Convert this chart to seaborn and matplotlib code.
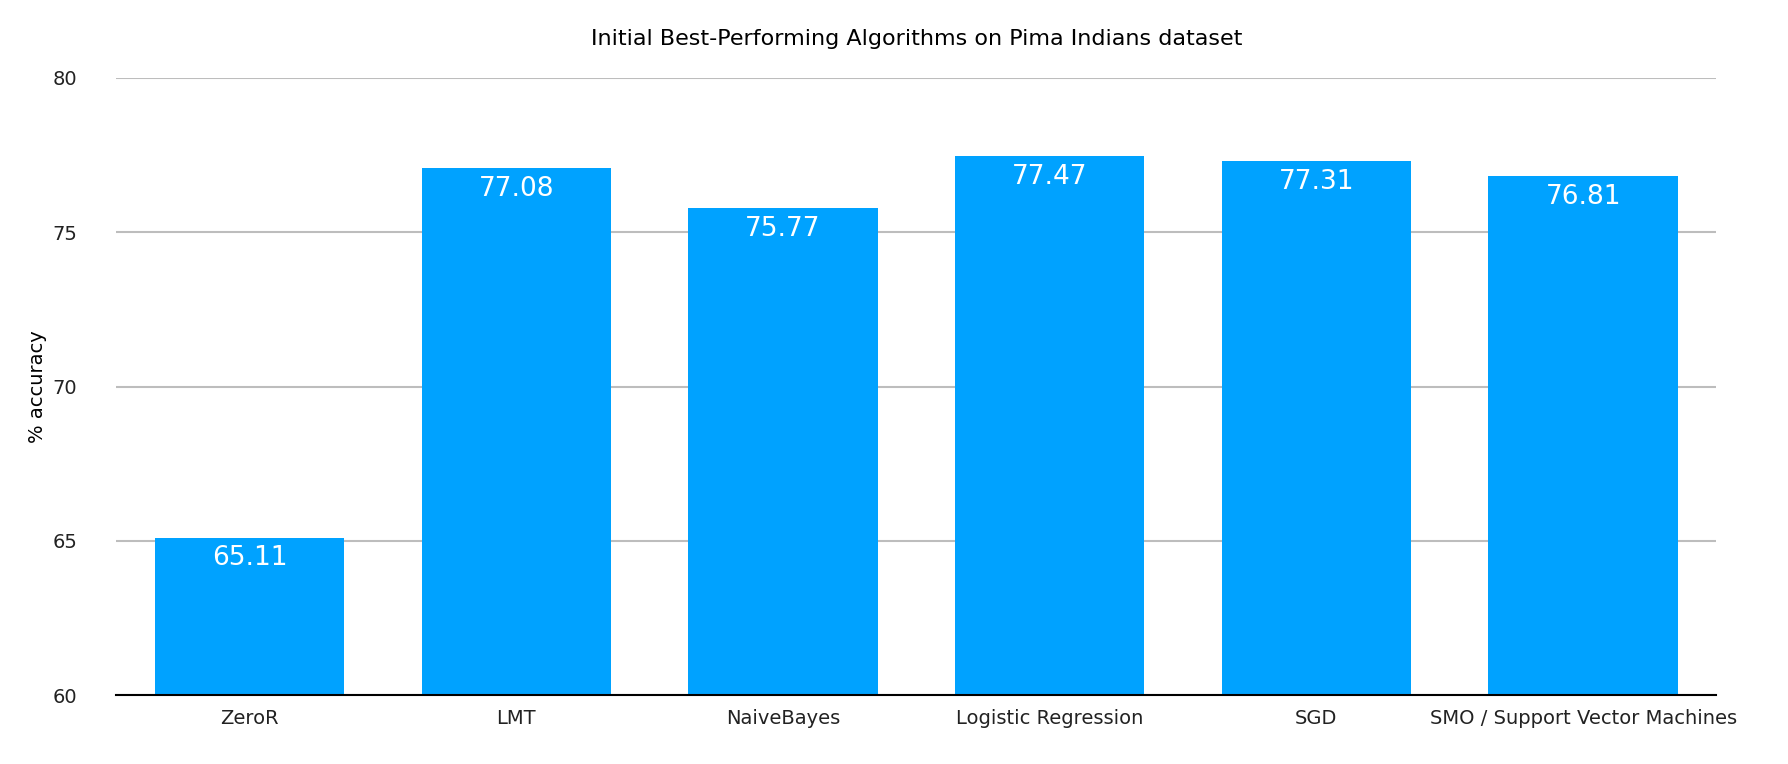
import matplotlib
matplotlib.use('Agg')
import matplotlib.pyplot as plt
import seaborn as sns
import pandas as pd

algorithms = ["ZeroR", "LMT", "NaiveBayes", "Logistic Regression", "SGD",
              "SMO / Support Vector Machines"]
accuracy = [65.11, 77.08, 75.77, 77.47, 77.31, 76.81]
y_ticks = [60, 65, 70, 75, 80]

df = pd.DataFrame({"algorithm": algorithms, "accuracy": accuracy})

fig = plt.figure(figsize=(17.88, 7.64), dpi=100)
ax = fig.add_axes([0.065, 0.09, 0.895, 0.808])
sns.barplot(data=df, x="algorithm", y="accuracy", color="#00A2FF",
            saturation=1, width=0.71, ax=ax)
ax.set_ylim(60, 80)
ax.set_xlim(-0.5, len(algorithms) - 0.5)
ax.set_yticks(y_ticks)
ax.yaxis.grid(True, color="#bdbdbd", linewidth=1.5)
ax.set_axisbelow(True)
for s in ["top", "right", "left"]:
    ax.spines[s].set_visible(False)
ax.spines["bottom"].set_color("black")
ax.spines["bottom"].set_linewidth(1.5)
ax.tick_params(axis="both", length=0, labelsize=14, colors="#222222")
ax.tick_params(axis="y", pad=28)
ax.tick_params(axis="x", pad=10)
ax.set_xlabel("")
ax.set_ylabel("% accuracy", fontsize=14)
ax.set_title("Initial Best-Performing Algorithms on Pima Indians dataset",
             fontsize=16, pad=24)

for i, v in enumerate(accuracy):
    ax.text(i, v - 0.25, f"{v:.2f}", ha="center", va="top",
            color="white", fontsize=19)

fig.savefig("out.png", dpi=100)
